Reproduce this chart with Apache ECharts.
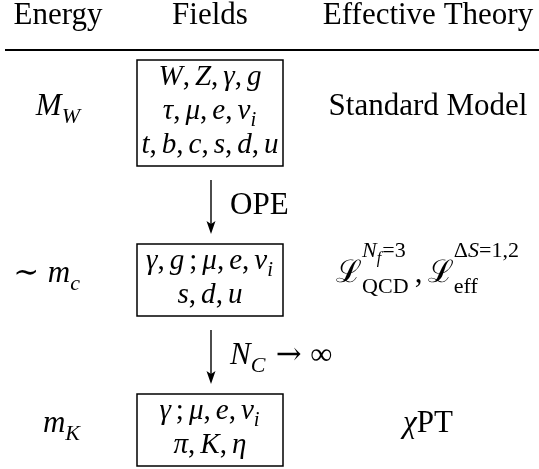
<!DOCTYPE html>
<html>
<head>
<meta charset="utf-8">
<script src="https://cdn.jsdelivr.net/npm/echarts@6/dist/echarts.min.js"></script>
<style>
  html, body { margin: 0; background: #fff; }
  #main { width: 539px; height: 469px; }
</style>
</head>
<body>
<div id="main"></div>
<script>
// column headings
var headers = ['Energy', 'Fields', 'Effective Theory']
// one entry per energy level (TeX-like: _ sub, ^ sup, "..." upright, \, thin space)
var energies = ['$M_W$', '$∼ m_c$', '$m_K$']
var fields = [
    ['$W, Z, γ, g$', '$τ, μ, e, ν_i$', '$t, b, c, s, d, u$'],
    ['$γ, g\\,; μ, e, ν_i$', '$s, d, u$'],
    ['$γ\\,; μ, e, ν_i$', '$π, K, η$']
]
var theories = ['Standard Model', '$ℒ^{N_f=3}_{"QCD"}\\,, ℒ^{ΔS=1,2}_{"eff"}$', '$χ$PT']
// what takes you from one level to the next
var steps = ['OPE', '$N_C → ∞$']

// layout
var FONT = '"Liberation Serif", "DejaVu Serif", serif'
var SYM_FONT = '"DejaVu Serif", serif'
var SIZES = [31, 22, 16]
var colX = [58, 210, 428]
var HEAD_Y = 26, RULE_Y = 50
var TOP0 = 60, LINE_H = 34, PAD = 2, GAP = 78, BOX_W = 146
var RELS = '=→∼'

var ctx = document.createElement('canvas').getContext('2d')
function measure(t, size, it, fam) {
    ctx.font = (it ? 'italic ' : '') + size + 'px ' + (fam || FONT)
    return ctx.measureText(t).width
}

function readGroup(s, i) {
    if (s[i] === '{') {
        var d = 1, j = i + 1
        while (j < s.length && d) {
            if (s[j] === '{') d++
            else if (s[j] === '}') d--
            j++
        }
        return [s.slice(i + 1, j - 1), j]
    }
    return [s[i], i + 1]
}

// little typesetter: returns end x, pushes pieces to out
function setMath(s, lvl, k, x, dy, out) {
    var size = SIZES[Math.min(lvl, 2)] * k, i = 0, start = x
    while (i < s.length) {
        var ch = s[i]
        if (ch === ' ') { i++; continue }
        if (ch === '\\') {
            x += (s[i + 1] === ';' ? 0.28 : 0.17) * size
            i += 2
            continue
        }
        if (ch === '"') {
            var j = s.indexOf('"', i + 1), t = s.slice(i + 1, j)
            out.push({ t: t, x: x, dy: dy, size: size, it: false })
            x += measure(t, size, false)
            i = j + 1
            continue
        }
        if (ch === '_' || ch === '^') {
            var sub = null, sup = null
            while (s[i] === '_' || s[i] === '^') {
                var g = readGroup(s, i + 1)
                if (s[i] === '_') sub = g[0]; else sup = g[0]
                i = g[1]
            }
            var both = sub !== null && sup !== null, w = 0
            if (sup !== null) w = Math.max(w, setMath(sup, lvl + 1, k, x, dy - size * (both ? 0.82 : 0.4), out) - x)
            if (sub !== null) w = Math.max(w, setMath(sub, lvl + 1, k, x, dy + size * (both ? 0.35 : 0.25), out) - x)
            x += w + 1
            continue
        }
        var rel = lvl === 0 && RELS.indexOf(ch) >= 0
        if (rel && x > start) x += 0.3 * size
        var it = /[A-Za-zα-ω]/.test(ch)
        var fam = rel ? SYM_FONT : null
        out.push({ t: ch, x: x, dy: dy, size: size, it: it, fam: fam })
        x += measure(ch, size, it, fam)
        if (rel) x += 0.28 * size
        if (lvl === 0 && (ch === ',' || ch === ';')) x += 0.17 * size
        i++
    }
    return x
}

function typeset(str, k) {
    var out = [], x = 0
    str.split('$').forEach(function (part, n) {
        if (n % 2) x = setMath(part, 0, k, x, 0, out)
        else if (part) {
            out.push({ t: part, x: x, dy: 0, size: SIZES[0] * k, it: false })
            x += measure(part, SIZES[0] * k, false)
        }
    })
    return { pieces: out, width: x }
}

// text elements for a string at baseline y; anchor left / center / right
function textEls(api, str, x, y, anchor, k) {
    var ts = typeset(str, k || 1)
    var x0 = anchor === 'left' ? x : anchor === 'right' ? x - ts.width : x - ts.width / 2
    return ts.pieces.map(function (p) {
        var pt = api.coord([x0 + p.x, y + p.dy - 0.33 * p.size])
        return {
            type: 'text', x: pt[0], y: pt[1], silent: true,
            style: {
                text: p.t, fill: '#000', fontSize: p.size, fontFamily: p.fam || FONT,
                fontStyle: p.it ? 'italic' : 'normal', align: 'left', verticalAlign: 'middle'
            }
        }
    })
}

function boxH(i) { return fields[i].length * LINE_H + 2 * PAD }
function boxTop(i) {
    var y = TOP0
    for (var k = 0; k < i; k++) y += boxH(k) + GAP
    return y
}

function renderHeader(params, api) {
    var i = api.value(0)
    var kids = textEls(api, headers[i], colX[i], HEAD_Y, 'center')
    if (i === 0) {
        var a = api.coord([5, RULE_Y]), b = api.coord([539, RULE_Y])
        kids.push({ type: 'line', shape: { x1: a[0], y1: a[1], x2: b[0], y2: b[1] },
            style: { stroke: '#000', lineWidth: 2 } })
    }
    return { type: 'group', children: kids }
}

function renderRow(params, api) {
    var i = api.value(0)
    var top = boxTop(i), h = boxH(i), mid = top + h / 2
    var p0 = api.coord([colX[1] - BOX_W / 2, top]), p1 = api.coord([colX[1] + BOX_W / 2, top + h])
    var kids = [{
        type: 'rect', shape: { x: p0[0], y: p0[1], width: p1[0] - p0[0], height: p1[1] - p0[1] },
        style: { fill: 'none', stroke: '#000', lineWidth: 1.5 }
    }]
    fields[i].forEach(function (line, k) {
        kids = kids.concat(textEls(api, line, colX[1], top + PAD + LINE_H * k + 0.72 * LINE_H, 'center', 0.94))
    })
    kids = kids.concat(textEls(api, energies[i], 81, mid + 4, 'right'))
    kids = kids.concat(textEls(api, theories[i], colX[2], mid + 4, 'center'))
    return { type: 'group', children: kids }
}

function renderStep(params, api) {
    var i = api.value(0)
    var y0 = boxTop(i) + boxH(i) + 14, y1 = boxTop(i + 1) - 10, ax = colX[1] + 1
    var a = api.coord([ax, y0]), b = api.coord([ax, y1 - 10])
    var tip = api.coord([ax, y1]), l = api.coord([ax - 4.5, y1 - 13]), r = api.coord([ax + 4.5, y1 - 13])
    var kids = [
        { type: 'line', shape: { x1: a[0], y1: a[1], x2: b[0], y2: b[1] }, style: { stroke: '#000', lineWidth: 1.4 } },
        { type: 'polygon', shape: { points: [tip, l, [tip[0], tip[1] - 10], r] }, style: { fill: '#000' } }
    ]
    kids = kids.concat(textEls(api, steps[i], ax + 19, (y0 + y1) / 2 + 9, 'left'))
    return { type: 'group', children: kids }
}

var chart = echarts.init(document.getElementById('main'))
chart.setOption({
    backgroundColor: '#fff',
    animation: false,
    grid: { left: 0, right: 0, top: 0, bottom: 0 },
    xAxis: { type: 'value', min: 0, max: 539, show: false },
    yAxis: { type: 'value', min: 0, max: 469, inverse: true, show: false },
    series: [
        { type: 'custom', name: 'header', renderItem: renderHeader, data: headers.map(function (h, i) { return [i, 0] }) },
        { type: 'custom', name: 'levels', renderItem: renderRow, data: energies.map(function (e, i) { return [i, 0] }) },
        { type: 'custom', name: 'steps', renderItem: renderStep, data: steps.map(function (s, i) { return [i, 0] }) }
    ]
})
</script>
</body>
</html>
